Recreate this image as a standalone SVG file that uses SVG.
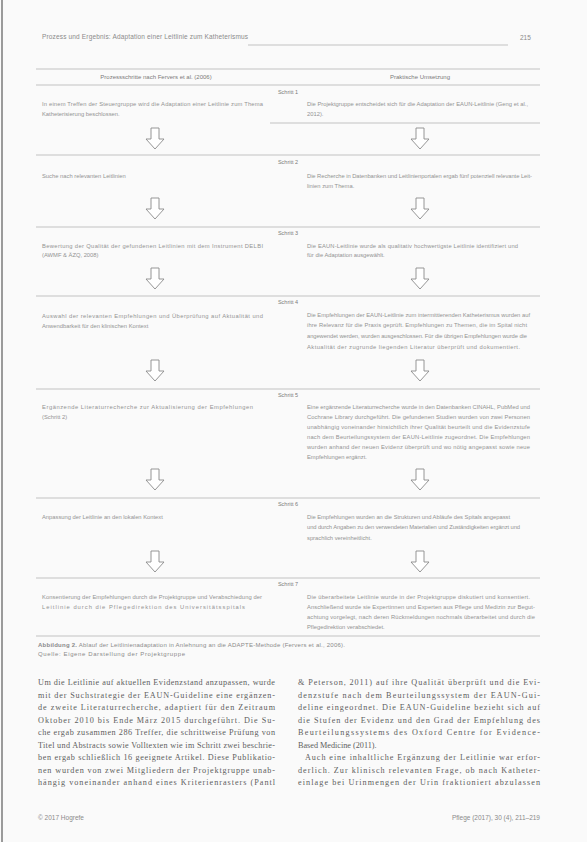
<svg xmlns="http://www.w3.org/2000/svg" width="587" height="842" viewBox="0 0 587 842">
<style>
.hd{font-family:"Liberation Sans",Arial,sans-serif;font-size:6.5px;fill:#8a8a8a}
.ch{font-family:"Liberation Sans",Arial,sans-serif;font-size:6px;fill:#7a7a7a;text-anchor:middle}
.lb{font-family:"Liberation Sans",Arial,sans-serif;font-size:5.5px;fill:#7a7a7a;text-anchor:middle}
.t{font-family:"Liberation Sans",Arial,sans-serif;font-size:5.8px;fill:#939393}
.cap{font-family:"Liberation Sans",Arial,sans-serif;font-size:6px;fill:#8a8a8a}
.b{font-family:"Liberation Serif","Times New Roman",serif;font-size:8.2px;fill:#5e5e5e}
.rule{stroke:#b4b4b4;stroke-width:0.8;fill:none}
.arrow{fill:#fff;stroke:#8a8a8a;stroke-width:0.9}
</style>
<defs>
<path id="arr" d="M-4,0 h8 v11 h5 l-9,10 l-9,-10 h5 z" class="arrow"/>
</defs>
<rect x="0" y="0" width="587" height="842" fill="#fafafa"/>
<line x1="2" y1="0" x2="2" y2="842" stroke="#9a9a9a" stroke-width="2"/>

<g id="header">
<text class="hd" x="42" y="39" textLength="206" lengthAdjust="spacing">Prozess und Ergebnis: Adaptation einer Leitlinie zum Katheterismus</text>
<line class="rule" x1="248" y1="45" x2="508" y2="45"/>
<text class="hd" x="520" y="40">215</text>
</g>

<g id="table-head">
<line class="rule" x1="36" y1="69" x2="540" y2="69"/>
<text class="ch" x="156" y="79">Prozessschritte nach Fervers et al. (2006)</text>
<text class="ch" x="420" y="79">Praktische Umsetzung</text>
</g>

<g id="connectors">
<use href="#arr" x="155" y="128"/><use href="#arr" x="420" y="128"/>
<use href="#arr" x="155" y="198"/><use href="#arr" x="420" y="198"/>
<use href="#arr" x="155" y="268"/><use href="#arr" x="420" y="268"/>
<use href="#arr" x="155" y="360"/><use href="#arr" x="420" y="360"/>
<use href="#arr" x="155" y="469"/><use href="#arr" x="420" y="469"/>
<use href="#arr" x="155" y="551"/><use href="#arr" x="420" y="551"/>
</g>

<g id="step1">
<line class="rule" x1="36" y1="85" x2="540" y2="85"/>
<text class="lb" x="288" y="94">Schritt 1</text>
<text class="t" x="42" y="106" textLength="221" lengthAdjust="spacing">In einem Treffen der Steuergruppe wird die Adaptation einer Leitlinie zum Thema</text>
<text class="t" x="42" y="116">Katheterisierung beschlossen.</text>
<text class="t" x="307" y="106" textLength="221" lengthAdjust="spacing">Die Projektgruppe entscheidet sich für die Adaptation der EAUN-Leitlinie (Geng et al.,</text>
<text class="t" x="307" y="116">2012).</text>
<line class="rule" x1="270" y1="123" x2="540" y2="123"/>
</g>

<g id="step2">
<line class="rule" x1="36" y1="155" x2="540" y2="155"/>
<text class="lb" x="288" y="164">Schritt 2</text>
<text class="t" x="42" y="178">Suche nach relevanten Leitlinien</text>
<text class="t" x="307" y="178" textLength="225" lengthAdjust="spacing">Die Recherche in Datenbanken und Leitlinienportalen ergab fünf potenziell relevante Leit-</text>
<text class="t" x="307" y="188">linien zum Thema.</text>
</g>

<g id="step3">
<line class="rule" x1="36" y1="227" x2="540" y2="227"/>
<text class="lb" x="288" y="235">Schritt 3</text>
<text class="t" x="42" y="248" textLength="221" lengthAdjust="spacing">Bewertung der Qualität der gefundenen Leitlinien mit dem Instrument DELBI</text>
<text class="t" x="42" y="257">(AWMF &amp; ÄZQ, 2008)</text>
<text class="t" x="307" y="248" textLength="211" lengthAdjust="spacing">Die EAUN-Leitlinie wurde als qualitativ hochwertigste Leitlinie identifiziert und</text>
<text class="t" x="307" y="257">für die Adaptation ausgewählt.</text>
</g>

<g id="step4">
<line class="rule" x1="36" y1="296" x2="540" y2="296"/>
<text class="lb" x="288" y="304">Schritt 4</text>
<text class="t" x="42" y="318" textLength="221" lengthAdjust="spacing">Auswahl der relevanten Empfehlungen und Überprüfung auf Aktualität und</text>
<text class="t" x="42" y="328">Anwendbarkeit für den klinischen Kontext</text>
<text class="t" x="307" y="317" textLength="223" lengthAdjust="spacing">Die Empfehlungen der EAUN-Leitlinie zum intermittierenden Katheterismus wurden auf</text>
<text class="t" x="307" y="327" textLength="220" lengthAdjust="spacing">ihre Relevanz für die Praxis geprüft. Empfehlungen zu Themen, die im Spital nicht</text>
<text class="t" x="307" y="338" textLength="220" lengthAdjust="spacing">angewendet werden, wurden ausgeschlossen. Für die übrigen Empfehlungen wurde die</text>
<text class="t" x="307" y="349" textLength="213" lengthAdjust="spacing">Aktualität der zugrunde liegenden Literatur überprüft und dokumentiert.</text>
</g>

<g id="step5">
<line class="rule" x1="36" y1="389" x2="540" y2="389"/>
<text class="lb" x="288" y="397">Schritt 5</text>
<text class="t" x="42" y="409" textLength="211" lengthAdjust="spacing">Ergänzende Literaturrecherche zur Aktualisierung der Empfehlungen</text>
<text class="t" x="42" y="419">(Schritt 2)</text>
<text class="t" x="307" y="409" textLength="223" lengthAdjust="spacing">Eine ergänzende Literaturrecherche wurde in den Datenbanken CINAHL, PubMed und</text>
<text class="t" x="307" y="419" textLength="223" lengthAdjust="spacing">Cochrane Library durchgeführt. Die gefundenen Studien wurden von zwei Personen</text>
<text class="t" x="307" y="429" textLength="223" lengthAdjust="spacing">unabhängig voneinander hinsichtlich ihrer Qualität beurteilt und die Evidenzstufe</text>
<text class="t" x="307" y="439" textLength="223" lengthAdjust="spacing">nach dem Beurteilungssystem der EAUN-Leitlinie zugeordnet. Die Empfehlungen</text>
<text class="t" x="307" y="449" textLength="223" lengthAdjust="spacing">wurden anhand der neuen Evidenz überprüft und wo nötig angepasst sowie neue</text>
<text class="t" x="307" y="459">Empfehlungen ergänzt.</text>
</g>

<g id="step6">
<line class="rule" x1="36" y1="498" x2="540" y2="498"/>
<text class="lb" x="288" y="506">Schritt 6</text>
<text class="t" x="42" y="519">Anpassung der Leitlinie an den lokalen Kontext</text>
<text class="t" x="307" y="519" textLength="203" lengthAdjust="spacing">Die Empfehlungen wurden an die Strukturen und Abläufe des Spitals angepasst</text>
<text class="t" x="307" y="529" textLength="213" lengthAdjust="spacing">und durch Angaben zu den verwendeten Materialien und Zuständigkeiten ergänzt und</text>
<text class="t" x="307" y="540">sprachlich vereinheitlicht.</text>
</g>

<g id="step7">
<line class="rule" x1="36" y1="578" x2="540" y2="578"/>
<text class="lb" x="288" y="586">Schritt 7</text>
<text class="t" x="42" y="599" textLength="220" lengthAdjust="spacing">Konsentierung der Empfehlungen durch die Projektgruppe und Verabschiedung der</text>
<text class="t" x="42" y="609" textLength="203" lengthAdjust="spacing">Leitlinie durch die Pflegedirektion des Universitätsspitals</text>
<text class="t" x="307" y="599" textLength="223" lengthAdjust="spacing">Die überarbeitete Leitlinie wurde in der Projektgruppe diskutiert und konsentiert.</text>
<text class="t" x="307" y="609" textLength="228" lengthAdjust="spacing">Anschließend wurde sie Expertinnen und Experten aus Pflege und Medizin zur Begut-</text>
<text class="t" x="307" y="619" textLength="228" lengthAdjust="spacing">achtung vorgelegt, nach deren Rückmeldungen nochmals überarbeitet und durch die</text>
<text class="t" x="307" y="629">Pflegedirektion verabschiedet.</text>
<line class="rule" x1="36" y1="636" x2="540" y2="636"/>
</g>

<g id="caption">
<text class="cap" x="38" y="647" textLength="307" lengthAdjust="spacing"><tspan font-weight="bold">Abbildung 2.</tspan> Ablauf der Leitlinienadaptation in Anlehnung an die ADAPTE-Methode (Fervers et al., 2006).</text>
<text class="cap" x="38" y="656" textLength="147" lengthAdjust="spacing">Quelle: Eigene Darstellung der Projektgruppe</text>
</g>

<g id="body">
<text class="b" x="38" y="685" textLength="237" lengthAdjust="spacing">Um die Leitlinie auf aktuellen Evidenzstand anzupassen, wurde</text>
<text class="b" x="38" y="697.5" textLength="237" lengthAdjust="spacing">mit der Suchstrategie der EAUN-Guideline eine ergänzen-</text>
<text class="b" x="38" y="710" textLength="237" lengthAdjust="spacing">de zweite Literaturrecherche, adaptiert für den Zeitraum</text>
<text class="b" x="38" y="722.5" textLength="237" lengthAdjust="spacing">Oktober 2010 bis Ende März 2015 durchgeführt. Die Su-</text>
<text class="b" x="38" y="735" textLength="237" lengthAdjust="spacing">che ergab zusammen 286 Treffer, die schrittweise Prüfung von</text>
<text class="b" x="38" y="747.5" textLength="237" lengthAdjust="spacing">Titel und Abstracts sowie Volltexten wie im Schritt zwei beschrie-</text>
<text class="b" x="38" y="760" textLength="237" lengthAdjust="spacing">ben ergab schließlich 16 geeignete Artikel. Diese Publikatio-</text>
<text class="b" x="38" y="772.5" textLength="237" lengthAdjust="spacing">nen wurden von zwei Mitgliedern der Projektgruppe unab-</text>
<text class="b" x="38" y="785" textLength="237" lengthAdjust="spacing">hängig voneinander anhand eines Kriterienrasters (Pantl</text>
<text class="b" x="298" y="685" textLength="242" lengthAdjust="spacing">&amp; Peterson, 2011) auf ihre Qualität überprüft und die Evi-</text>
<text class="b" x="298" y="697.5" textLength="242" lengthAdjust="spacing">denzstufe nach dem Beurteilungssystem der EAUN-Gui-</text>
<text class="b" x="298" y="710" textLength="242" lengthAdjust="spacing">deline eingeordnet. Die EAUN-Guideline bezieht sich auf</text>
<text class="b" x="298" y="722.5" textLength="242" lengthAdjust="spacing">die Stufen der Evidenz und den Grad der Empfehlung des</text>
<text class="b" x="298" y="735" textLength="242" lengthAdjust="spacing">Beurteilungssystems des Oxford Centre for Evidence-</text>
<text class="b" x="298" y="747.5">Based Medicine (2011).</text>
<text class="b" x="305" y="760" textLength="235" lengthAdjust="spacing">Auch eine inhaltliche Ergänzung der Leitlinie war erfor-</text>
<text class="b" x="298" y="772.5" textLength="242" lengthAdjust="spacing">derlich. Zur klinisch relevanten Frage, ob nach Katheter-</text>
<text class="b" x="298" y="785" textLength="242" lengthAdjust="spacing">einlage bei Urinmengen der Urin fraktioniert abzulassen</text>
</g>

<g id="footer">
<text class="hd" x="38" y="820">© 2017 Hogrefe</text>
<text class="hd" x="540" y="820" text-anchor="end">Pflege (2017), 30 (4), 211–219</text>
</g>
</svg>
